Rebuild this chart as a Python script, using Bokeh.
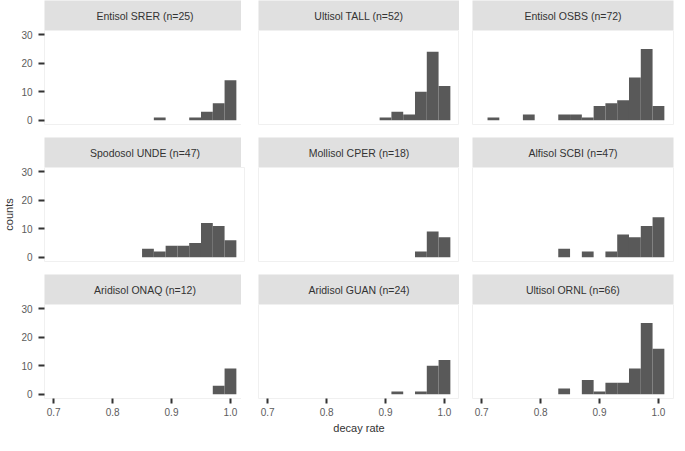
from bokeh.plotting import figure
from bokeh.layouts import gridplot
from bokeh.models import Range1d, FixedTicker, Label, ColumnDataSource, CustomJSTickFormatter
from bokeh.embed import file_html
from bokeh.resources import INLINE

# ---- data ----
bin_edges = [0.71, 0.73, 0.75, 0.77, 0.79, 0.81, 0.83, 0.85, 0.87,
             0.89, 0.91, 0.93, 0.95, 0.97, 0.99, 1.01]

facet_labels = ["Entisol SRER (n=25)", "Ultisol TALL (n=52)", "Entisol OSBS (n=72)",
                "Spodosol UNDE (n=47)", "Mollisol CPER (n=18)", "Alfisol SCBI (n=47)",
                "Aridisol ONAQ (n=12)", "Aridisol GUAN (n=24)", "Ultisol ORNL (n=66)"]

counts_srer = [0, 0, 0, 0, 0, 0, 0, 0, 1, 0, 0, 1, 3, 6, 14]
counts_tall = [0, 0, 0, 0, 0, 0, 0, 0, 0, 1, 3, 2, 10, 24, 12]
counts_osbs = [1, 0, 0, 2, 0, 0, 2, 2, 1, 5, 6, 7, 15, 25, 5]
counts_unde = [0, 0, 0, 0, 0, 0, 0, 3, 2, 4, 4, 5, 12, 11, 6]
counts_cper = [0, 0, 0, 0, 0, 0, 0, 0, 0, 0, 0, 0, 2, 9, 7]
counts_scbi = [0, 0, 0, 0, 0, 0, 3, 0, 2, 0, 2, 8, 7, 11, 14]
counts_onaq = [0, 0, 0, 0, 0, 0, 0, 0, 0, 0, 0, 0, 0, 3, 9]
counts_guan = [0, 0, 0, 0, 0, 0, 0, 0, 0, 0, 1, 0, 1, 10, 12]
counts_ornl = [0, 0, 0, 0, 0, 0, 2, 0, 5, 1, 4, 4, 9, 25, 16]

facet_counts = [counts_srer, counts_tall, counts_osbs,
                counts_unde, counts_cper, counts_scbi,
                counts_onaq, counts_guan, counts_ornl]

x_ticks = [0.7, 0.8, 0.9, 1.0]
y_ticks = [0, 10, 20, 30]

x_label = "decay rate"
y_label = "counts"

# ---- layout / style ----
FONT = "Liberation Sans"
BAR = "#595959"
STRIP = "#e0e0e0"
TICK_TXT = "#5c5c5c"
TITLE_TXT = "#333333"
L, W, GAP, S, H, RG, B = 40, 201, 13, 30, 94, 13, 37

rows = []
for r in range(3):
    strip_row, panel_row = [], []
    for c in range(3):
        i = r * 3 + c
        left = L if c == 0 else GAP
        right = 1 if c == 2 else 0

        # strip
        s = figure(frame_width=W, frame_height=S, x_range=Range1d(0, 1), y_range=Range1d(0, 1),
                   x_axis_location=None, y_axis_location=None, title=None,
                   toolbar_location=None, output_backend="svg",
                   min_border_left=left, min_border_right=right,
                   min_border_top=0, min_border_bottom=0)
        s.background_fill_color = STRIP
        s.border_fill_color = "white"
        s.outline_line_color = None
        s.grid.visible = False
        s.add_layout(Label(x=0.5, y=0.5, text=facet_labels[i], text_align="center",
                           text_baseline="middle", text_font=FONT,
                           text_font_size="10.5px", text_color=TITLE_TXT))
        strip_row.append(s)

        # panel
        bottom = B if r == 2 else RG
        p = figure(frame_width=W, frame_height=H,
                   x_range=Range1d(0.6845, 1.0255), y_range=Range1d(-1.5, 31.5),
                   x_axis_location="below" if r == 2 else None,
                   y_axis_location="left" if c == 0 else None,
                   title=None, toolbar_location=None, output_backend="svg",
                   min_border_left=left, min_border_right=right,
                   min_border_top=0, min_border_bottom=bottom)
        p.background_fill_color = "white"
        p.border_fill_color = "white"
        p.outline_line_color = "#f0f0f0"
        p.grid.visible = False

        cnt = facet_counts[i]
        src = ColumnDataSource(dict(
            left=[bin_edges[k] for k in range(len(cnt)) if cnt[k] > 0],
            right=[bin_edges[k + 1] for k in range(len(cnt)) if cnt[k] > 0],
            top=[cnt[k] for k in range(len(cnt)) if cnt[k] > 0]))
        p.quad(left="left", right="right", top="top", bottom=0, source=src,
               fill_color=BAR, line_color=None)

        if r == 2:
            ax = p.xaxis[0]
            ax.ticker = FixedTicker(ticks=x_ticks)
            ax.formatter = CustomJSTickFormatter(code="return tick.toFixed(1);")
            ax.major_tick_out = 5
            ax.major_tick_in = 0
            ax.major_tick_line_width = 2
            ax.major_tick_line_color = "#333333"
            ax.minor_tick_line_color = None
            ax.axis_line_color = None
            ax.major_label_standoff = 4
            ax.major_label_text_font = FONT
            ax.major_label_text_font_size = "10px"
            ax.major_label_text_color = TICK_TXT
            if c == 1:
                ax.axis_label = x_label
                ax.axis_label_standoff = 3
                ax.axis_label_text_font = FONT
                ax.axis_label_text_font_size = "11px"
                ax.axis_label_text_font_style = "normal"
                ax.axis_label_text_color = TITLE_TXT
        if c == 0:
            ay = p.yaxis[0]
            ay.ticker = FixedTicker(ticks=y_ticks)
            ay.formatter = CustomJSTickFormatter(code="return tick.toFixed(0);")
            ay.major_tick_out = 6
            ay.major_tick_in = 0
            ay.major_tick_line_width = 2
            ay.major_tick_line_color = "#333333"
            ay.minor_tick_line_color = None
            ay.axis_line_color = None
            ay.major_label_standoff = 6
            ay.major_label_text_font = FONT
            ay.major_label_text_font_size = "10px"
            ay.major_label_text_color = TICK_TXT
            if r == 1:
                ay.axis_label = y_label
                ay.axis_label_standoff = 3
                ay.axis_label_text_font = FONT
                ay.axis_label_text_font_size = "11px"
                ay.axis_label_text_font_style = "normal"
                ay.axis_label_text_color = TITLE_TXT
        panel_row.append(p)
    rows.append(strip_row)
    rows.append(panel_row)

grid = gridplot(rows, toolbar_location=None)

open("out.html", "w").write(file_html(grid, INLINE))
